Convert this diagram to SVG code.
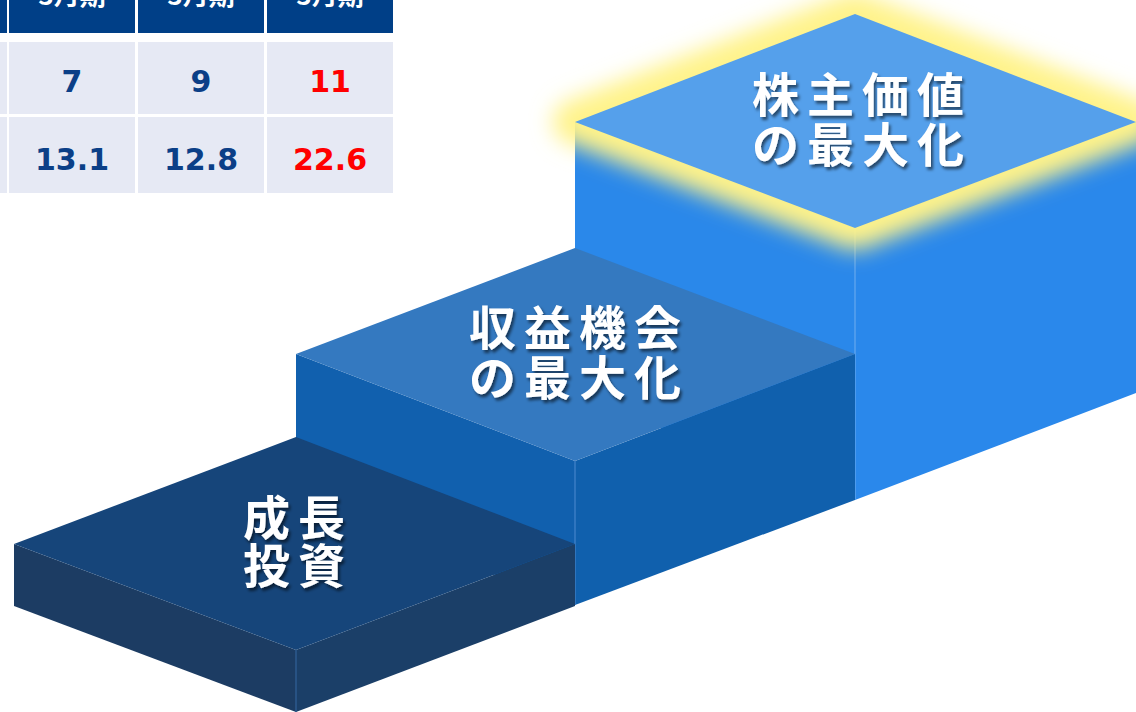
<svg xmlns="http://www.w3.org/2000/svg" width="1136" height="712" viewBox="0 0 1136 712">
<defs>
<style>
.hdr{fill:#003f87}
.cell{fill:#e6e9f4}
.hdrt{font-family:"Noto Sans CJK JP","Noto Sans",sans-serif;font-size:26px;font-weight:700;fill:#ffffff;text-anchor:middle}
.num{font-family:"DejaVu Sans","Noto Sans",sans-serif;font-size:30px;font-weight:700;fill:#0b3f87;text-anchor:middle}
.red{fill:#ff0000}
.lbl{font-family:"Noto Sans CJK JP","Noto Sans CJK SC",sans-serif;font-size:47px;font-weight:700;fill:#ffffff;text-anchor:middle;letter-spacing:8px;filter:url(#tshadow)}
.edge{stroke-width:1.5;fill:none}
</style>
<filter id="tshadow" x="-20%" y="-20%" width="140%" height="160%">
<feDropShadow dx="2" dy="3" stdDeviation="1.5" flood-color="#000000" flood-opacity="0.55"/>
</filter>
<filter id="glow" x="-30%" y="-40%" width="160%" height="180%">
<feGaussianBlur stdDeviation="11"/>
</filter>
</defs>
<rect width="1136" height="712" fill="#ffffff"/>

<g id="table">
<rect class="hdr" x="0" y="0" width="7" height="33"/>
<rect class="hdr" x="9" y="0" width="126" height="33"/>
<rect class="hdr" x="138" y="0" width="126" height="33"/>
<rect class="hdr" x="267" y="0" width="126" height="33"/>
<text class="hdrt" x="72" y="5">3月期</text>
<text class="hdrt" x="201" y="5">3月期</text>
<text class="hdrt" x="330" y="5">3月期</text>
<rect class="cell" x="0" y="42" width="7" height="72"/>
<rect class="cell" x="9" y="42" width="126" height="72"/>
<rect class="cell" x="138" y="42" width="126" height="72"/>
<rect class="cell" x="267" y="42" width="126" height="72"/>
<rect class="cell" x="0" y="117" width="7" height="76"/>
<rect class="cell" x="9" y="117" width="126" height="76"/>
<rect class="cell" x="138" y="117" width="126" height="76"/>
<rect class="cell" x="267" y="117" width="126" height="76"/>
<text class="num" x="72" y="92">7</text>
<text class="num" x="201" y="92">9</text>
<text class="num red" x="330" y="92">11</text>
<text class="num" x="72" y="170">13.1</text>
<text class="num" x="201" y="170">12.8</text>
<text class="num red" x="330" y="170">22.6</text>
</g>

<g id="step-top">
<polygon points="575,122 855,228 855,500 575,396" fill="#2a88ea"/>
<polygon points="855,228 1136,122 1136,393 855,500" fill="#2a88eb"/>
<line class="edge" x1="855" y1="228" x2="855" y2="500" stroke="#5aa2ee"/>
<polygon points="855,14 1136,122 855,228 575,122" fill="none" stroke="#fff38a" stroke-width="44" stroke-linejoin="round" filter="url(#glow)"/>
<polygon points="855,14 1136,122 855,228 575,122" fill="#55a0eb"/>
<text class="lbl" x="862"><tspan x="862" y="112">株主価値</tspan><tspan x="862" y="162">の最大化</tspan></text>
</g>

<g id="step-middle">
<polygon points="296,354 575,461 575,605 296,500" fill="#1160ae"/>
<polygon points="575,461 855,354 855,500 575,605" fill="#1060ad"/>
<line class="edge" x1="575" y1="461" x2="575" y2="605" stroke="#3a7cc4"/>
<polygon points="575,248 855,354 575,461 296,354" fill="#3479c0"/>
<text class="lbl" x="579"><tspan x="579" y="345">収益機会</tspan><tspan x="579" y="395">の最大化</tspan></text>
</g>

<g id="step-bottom">
<polygon points="14,544 296,650 296,712 14,606" fill="#1c3c63"/>
<polygon points="296,650 575,544 575,606 296,712" fill="#1b3f68"/>
<line class="edge" x1="296" y1="650" x2="296" y2="712" stroke="#2c5a8e"/>
<polygon points="296,437 575,544 296,650 14,544" fill="#16457a"/>
<text class="lbl" x="298"><tspan x="298" y="535">成長</tspan><tspan x="298" y="583">投資</tspan></text>
</g>

<g id="connectors"/>
</svg>
